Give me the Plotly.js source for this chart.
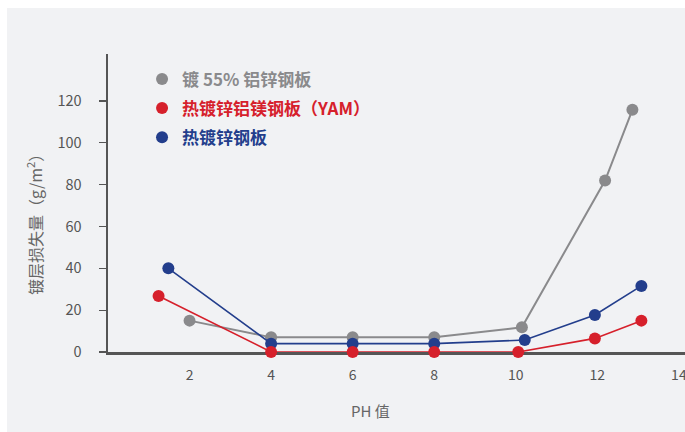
<!DOCTYPE html>
<html>
<head>
<meta charset="utf-8">
<script src="https://cdn.plot.ly/plotly-3.0.1.min.js"></script>
<style>
html,body{margin:0;padding:0;background:#ffffff;}
#chart{position:absolute;left:7px;top:8px;width:678px;height:424px;}
</style>
</head>
<body>
<div id="chart"></div>
<script>
// Series names
const seriesNames = ['镀 55% 铝锌钢板', '热镀锌铝镁钢板（YAM）', '热镀锌钢板'];
// 镀 55% 铝锌钢板 (gray)
const grayX = [2.0, 4.0, 6.0, 8.0, 10.15, 12.19, 12.86];
const grayY = [15, 7, 7, 7, 11.8, 82, 115.8];
// 热镀锌铝镁钢板(YAM) (red)
const redX = [1.24, 4.0, 6.0, 8.0, 10.06, 11.94, 13.08];
const redY = [26.8, 0, 0, 0, 0, 6.5, 15];
// 热镀锌钢板 (blue)
const blueX = [1.48, 4.0, 6.0, 8.0, 10.22, 11.94, 13.08];
const blueY = [40, 4, 4, 4, 5.7, 17.7, 31.6];
// Axis ticks
const xTicks = [2, 4, 6, 8, 10, 12, 14];
const yTicks = [0, 20, 40, 60, 80, 100, 120];

const GRAY = '#8a8a8c', RED = '#d6202b', BLUE = '#233e8c';
const FONT = '"Noto Sans CJK SC", "Noto Sans", sans-serif';

function lineTrace(x, y, color, w) {
  return {x: x, y: y, type: 'scatter', mode: 'lines+markers', showlegend: false,
    cliponaxis: false, hoverinfo: 'skip',
    line: {color: color, width: w}, marker: {color: color, size: 12}};
}
function legendTrace(name, color, g) {
  return {x: [null], y: [null], type: 'scatter', mode: 'markers', name: name,
    legendgroup: g, marker: {color: color, size: 12}};
}

const data = [
  lineTrace(grayX, grayY, GRAY, 2),
  lineTrace(blueX, blueY, BLUE, 1.6),
  lineTrace(redX, redY, RED, 1.6),
  legendTrace(seriesNames[0], GRAY, 'a'),
  legendTrace(seriesNames[1], RED, 'b'),
  legendTrace(seriesNames[2], BLUE, 'c')
];

const layout = {
  width: 678, height: 424,
  paper_bgcolor: '#f1f2f4', plot_bgcolor: '#f1f2f4',
  margin: {l: 101, r: 0, t: 46, b: 80},
  font: {family: FONT, color: '#555555', size: 14},
  showlegend: true,
  legend: {x: 0.059, y: 0.975, xanchor: 'left', yanchor: 'top', bgcolor: 'rgba(0,0,0,0)',
    traceorder: 'grouped', tracegroupgap: 4,
    font: {family: FONT, size: 17, color: '#888888', weight: 'bold'}},
  xaxis: {range: [0, 14.15], tickvals: xTicks, ticks: '', showgrid: false, zeroline: false,
    showline: true, linecolor: '#555555', linewidth: 2.5, ticklabelstandoff: 9,
    ticklabeloverflow: 'allow', layer: 'below traces',
    tickfont: {size: 14, color: '#555555'}, fixedrange: true},
  yaxis: {range: [0, 142.5], tickvals: yTicks, ticks: 'outside', ticklen: 7, tickcolor: '#555555',
    tickwidth: 1.2, showgrid: false, zeroline: false, showline: true, linecolor: '#555555',
    linewidth: 2.5, ticklabelstandoff: 14, layer: 'below traces',
    tickfont: {size: 14.5, color: '#555555'}, fixedrange: true},
  annotations: [
    {text: 'PH 值', xref: 'paper', yref: 'paper', x: (370 - 108) / 577, y: -0.195,
      xanchor: 'center', yanchor: 'middle', showarrow: false,
      font: {size: 15, color: '#666666', family: FONT}},
    {text: '镀层损失量（g/m<sup>2</sup>）', xref: 'paper', yref: 'paper', x: -0.1265, y: 0.44,
      xanchor: 'center', yanchor: 'middle', showarrow: false, textangle: -90,
      font: {size: 16, color: '#666666', family: FONT}}
  ]
};

Plotly.newPlot('chart', data, layout, {displayModeBar: false, staticPlot: true}).then(function(){
  const cols = [GRAY, RED, BLUE];
  document.querySelectorAll('.legendtext').forEach(function(t, i){ t.style.fill = cols[i]; });
});
</script>
</body>
</html>
